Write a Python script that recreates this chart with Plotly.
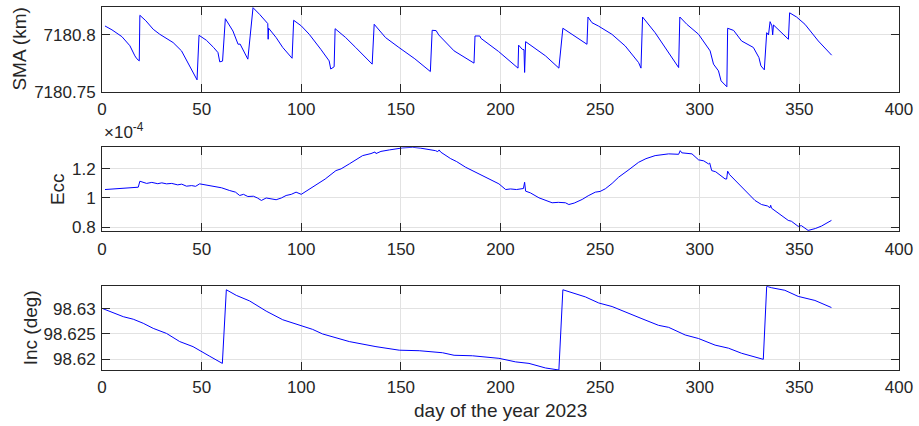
import plotly.graph_objects as go
from plotly.subplots import make_subplots

# ---- data ----
sma_day = [1.5, 5, 10, 14, 16.5, 17.5, 18.7, 19.0, 22, 25.7, 29, 35.7, 39.9, 44, 47.7,
           48.7, 52.4, 56, 58.2, 59.1, 60.5, 61.9, 65.7, 68.3, 69.3, 73.2,
           75.8, 79.1, 82.4, 83.2, 83.4, 83.6, 87.4, 90.7, 95.4,
           96.2, 100, 104, 109.8, 114, 114.8, 116.5, 117, 122.3, 127.3, 135.6,
           136.6, 142.3, 149, 157, 164.8, 165.7, 167.7, 169, 176.7, 186.7,
           187.2, 189.6, 190.2, 199, 208.8, 209.1, 210.9, 211.8, 212.1, 212.6, 222.6, 229.3,
           231.3, 243.4, 243.9, 245.9, 249.2, 255.9, 262.6, 269.3, 270.5,
           271.3, 277.6, 284.4, 289.4, 290.0, 293.5, 299.4, 305.2, 306.9, 309.4, 310.7, 313.6,
           314.0, 317, 321, 326.9, 329.7, 330.7, 332.4, 333.6, 334.5, 335.3, 336.2, 336.6, 337.0, 344.5,
           345.1, 348.6, 352.8, 359.5, 366.2]
sma_km = [7180.8079, 7180.8045, 7180.7985, 7180.7905, 7180.7816, 7180.7790, 7180.7772, 7180.8173,
          7180.8125, 7180.8050, 7180.8006, 7180.7933, 7180.7860, 7180.7730, 7180.7605,
          7180.7997, 7180.7953, 7180.7890, 7180.7845, 7180.7763, 7180.7770, 7180.8143, 7180.8035,
          7180.7918, 7180.7920, 7180.7787,
          7180.8240, 7180.8181, 7180.8108, 7180.8100, 7180.7962, 7180.8060, 7180.7977, 7180.7890, 7180.7795,
          7180.8129, 7180.8080, 7180.8006, 7180.7874, 7180.7772, 7180.7700, 7180.7720, 7180.8055,
          7180.7977, 7180.7890, 7180.7743,
          7180.8094, 7180.7977, 7180.7890, 7180.7790, 7180.7678, 7180.8041, 7180.8038, 7180.8000,
          7180.7860, 7180.7752,
          7180.7991, 7180.7991, 7180.7970, 7180.7855, 7180.7708, 7180.7910, 7180.7874, 7180.7870,
          7180.7670, 7180.7941, 7180.7816, 7180.7708,
          7180.8059, 7180.7918, 7180.8158, 7180.8108, 7180.8078, 7180.8006, 7180.7903, 7180.7757, 7180.7708,
          7180.8158, 7180.8020, 7180.7845, 7180.7713, 7180.8158, 7180.8094, 7180.8006, 7180.7860,
          7180.7743, 7180.7684, 7180.7596, 7180.7544,
          7180.8059, 7180.8040, 7180.7947, 7180.7890, 7180.7801, 7180.7728, 7180.7693, 7180.8020,
          7180.8000, 7180.8117, 7180.8080, 7180.8000, 7180.8088, 7180.7962,
          7180.8195, 7180.8158, 7180.8094, 7180.7947, 7180.7822]

ecc_day = [1.5, 10, 18.2, 19, 20.5, 22.4, 25, 28, 30, 32.4, 35, 38, 40, 42.4, 45, 47, 49, 52,
           55.7, 60, 64.1, 67, 69.1, 71, 73.2, 76, 78, 80, 82.4, 85, 87.4, 90, 92.4, 95, 97.4,
           100, 103, 107.4, 112, 117.4, 120, 124.1, 127, 130.8, 135, 137, 137.5, 140, 144.2,
           150.9, 155.9, 160, 167.4, 168.5, 169.2, 170, 175, 178, 182.5, 190.9, 199.2, 202.6,
           205, 208, 210, 211.5, 212.1, 212.6, 215, 219.3, 225.9, 229, 232.6, 234.3, 237, 241,
           244, 247.6, 250, 252.6, 256, 259.3, 264, 269.3, 273, 277.6, 284.4, 289.4, 290.2,
           291, 296.1, 299.4, 302, 304.4, 305, 306, 308, 312.7, 313.5, 314, 315, 319.4, 323,
           327.7, 331, 334, 335.2, 335.6, 336, 340, 344.4, 346, 347, 349.4, 351, 354.4, 358,
           361.1, 366.1]
ecc_e4 = [1.058, 1.065, 1.074, 1.115, 1.110, 1.100, 1.107, 1.098, 1.104, 1.097, 1.100, 1.090,
          1.095, 1.081, 1.085, 1.080, 1.097, 1.090, 1.081, 1.070, 1.051, 1.040, 1.017, 1.025,
          1.010, 1.012, 1.000, 0.983, 1.000, 0.995, 0.988, 1.000, 1.017, 1.025, 1.040, 1.025,
          1.050, 1.086, 1.130, 1.188, 1.200, 1.234, 1.260, 1.291, 1.305, 1.316, 1.305, 1.320,
          1.330, 1.344, 1.348, 1.342, 1.325, 1.318, 1.330, 1.315, 1.270, 1.250, 1.211, 1.154,
          1.097, 1.058, 1.062, 1.058, 1.060, 1.065, 1.108, 1.047, 1.035, 1.001, 0.967, 0.970,
          0.967, 0.955, 0.965, 0.990, 1.015, 1.040, 1.045, 1.063, 1.100, 1.143, 1.190, 1.245,
          1.270, 1.291, 1.303, 1.300, 1.325, 1.310, 1.303, 1.262, 1.255, 1.234, 1.240, 1.188,
          1.180, 1.131, 1.130, 1.184, 1.160, 1.097, 1.045, 0.983, 0.955, 0.945, 0.933, 0.950,
          0.930, 0.890, 0.846, 0.840, 0.830, 0.805, 0.810, 0.777, 0.790, 0.807, 0.846]

inc_day = [0.3, 10.7, 15.7, 20.7, 25.7, 32.4, 39, 45.7, 54.1, 60.4,
           62.4, 67.4, 74.1, 82.4, 90.7, 99.1, 105.7, 110.7, 124.1, 137.5, 149.2, 159.2, 170.9,
           176.7, 185.9, 199.2, 207.6, 214.3, 222.6, 229.3,
           231.3, 242.6, 249.3, 256, 264.3, 271, 279.3, 284.4, 292.7, 299.4, 307.7, 314.4, 321, 331.9,
           333.6, 336.1, 342.7, 349.4, 357.8, 366.1]
inc_deg = [98.6300, 98.6284, 98.6279, 98.6271, 98.6261, 98.6251, 98.6235, 98.6225, 98.6206, 98.6192,
           98.6337, 98.6326, 98.6315, 98.6295, 98.6278, 98.6267, 98.6259, 98.6250, 98.6235, 98.6225,
           98.6218, 98.6217, 98.6213, 98.6208, 98.6207, 98.6202, 98.6195, 98.6192, 98.6183, 98.6179,
           98.6337, 98.6323, 98.6311, 98.6304, 98.6290, 98.6280, 98.6267, 98.6263, 98.6248, 98.6241,
           98.6228, 98.6222, 98.6212, 98.6200,
           98.6344, 98.6341, 98.6336, 98.6324, 98.6316, 98.6302]

x_ticks = [0, 50, 100, 150, 200, 250, 300, 350, 400]
sma_ticks = [7180.75, 7180.8]
ecc_ticks = [0.8, 1.0, 1.2]
inc_ticks = [98.62, 98.625, 98.63]

# ---- figure ----
W, H = 919, 426
ML, MR, MT, MB = 102, 18, 6, 56
PW, PH = W - ML - MR, H - MT - MB


def ydom(top_px, bot_px):
    return [(H - MB - bot_px) / PH, (H - MB - top_px) / PH]


fig = make_subplots(rows=3, cols=1)
line = dict(color="#0000ff", width=1)
fig.add_trace(go.Scatter(x=sma_day, y=sma_km, mode="lines", line=line), row=1, col=1)
fig.add_trace(go.Scatter(x=ecc_day, y=ecc_e4, mode="lines", line=line), row=2, col=1)
fig.add_trace(go.Scatter(x=inc_day, y=inc_deg, mode="lines", line=line), row=3, col=1)

TXT = "#262626"
FONT = "Liberation Sans, Arial, Helvetica, sans-serif"
TICKF = dict(family=FONT, size=17, color=TXT)
axcommon = dict(showline=True, linecolor=TXT, linewidth=1, mirror="ticks", ticks="inside",
                ticklen=8, tickcolor=TXT, tickwidth=1, showgrid=True, gridcolor="#e2e2e2",
                gridwidth=1, zeroline=False, tickfont=TICKF)

doms = [ydom(6, 91), ydom(146.7, 231), ydom(286, 370)]
ranges = [[7180.75, 7180.8246], [0.7705, 1.348], [98.6179, 98.6344]]
yticks = [sma_ticks, ecc_ticks, inc_ticks]
ytext = [["7180.75", "7180.8"], ["0.8", "1", "1.2"], ["98.62", "98.625", "98.63"]]
for i in range(3):
    sfx = "" if i == 0 else str(i + 1)
    fig.layout["xaxis" + sfx].update(range=[0, 400], tickvals=x_ticks, ticklabelstandoff=2, **axcommon)
    fig.layout["yaxis" + sfx].update(domain=doms[i], range=ranges[i], tickvals=yticks[i],
                                      ticktext=ytext[i], ticklabelstandoff=2, **axcommon)

LBL = dict(family=FONT, size=19, color=TXT)


def px2x(px):
    return (px - ML) / PW


def px2y(py):
    return (H - MB - py) / PH


ann = [
    dict(text="SMA (km)", x=px2x(19), y=px2y(48.5), textangle=-90),
    dict(text="Ecc", x=px2x(57.5), y=px2y(189), textangle=-90),
    dict(text="Inc (deg)", x=px2x(30), y=px2y(328), textangle=-90),
    dict(text="day of the year 2023", x=0.5, y=px2y(411)),
]
for a in ann:
    fig.add_annotation(xref="paper", yref="paper", showarrow=False, xanchor="center",
                       yanchor="middle", font=LBL, **a)
fig.add_annotation(xref="paper", yref="paper", showarrow=False, x=0, y=px2y(143),
                   xanchor="left", yanchor="bottom", text="×10<sup>-4</sup>",
                   font=dict(family=FONT, size=17, color=TXT))

fig.update_layout(width=W, height=H, margin=dict(l=ML, r=MR, t=MT, b=MB),
                  paper_bgcolor="white", plot_bgcolor="white", showlegend=False)
fig.write_html("out.html")
